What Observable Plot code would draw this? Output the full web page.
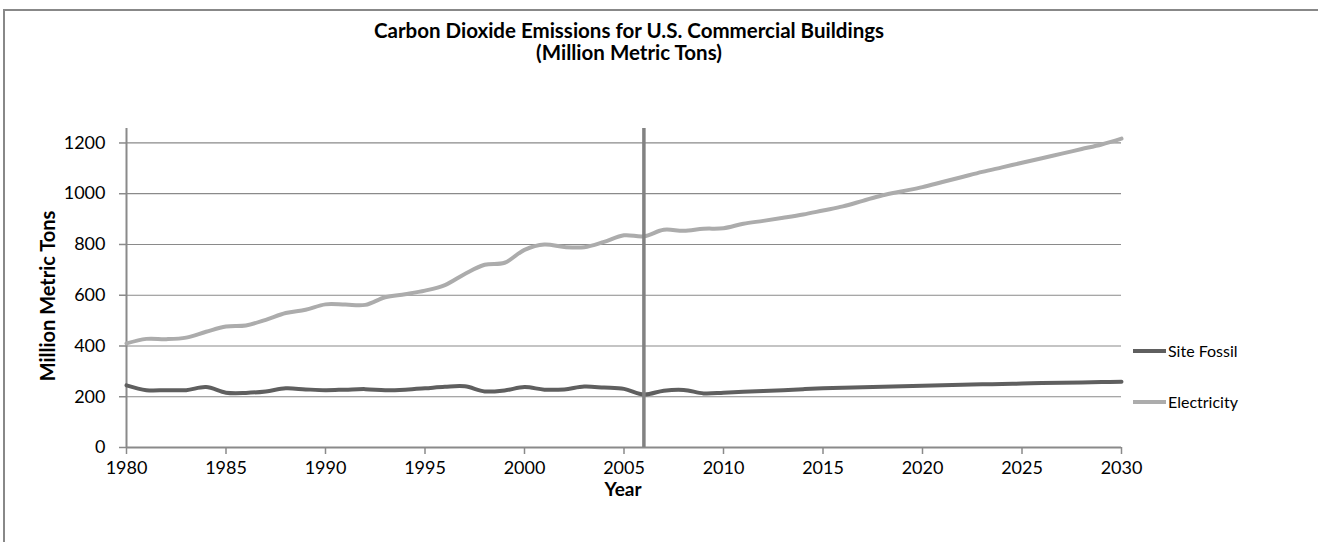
<!DOCTYPE html>
<html>
<head>
<meta charset="utf-8">
<script src="https://cdn.jsdelivr.net/npm/d3@7"></script>
<script src="https://cdn.jsdelivr.net/npm/@observablehq/plot@0.6"></script>
<style>
  html, body { margin: 0; padding: 0; background: #fff; overflow: hidden; }
  #wrap { position: relative; width: 1318px; height: 542px; font-family: Lato, "Open Sans", sans-serif; }
  #frame { position: absolute; left: 3px; top: 9px; width: 1400px; height: 600px; border: 2px solid #888; box-sizing: border-box; }
  .title { position: absolute; left: 0; width: 1258px; text-align: center; font-weight: bold; font-size: 20.5px; line-height: 21px; height: 21px; color: #000; }
  #chart { position: absolute; left: 0; top: 0; }
  .leg { position: absolute; left: 1133px; font-size: 16px; color: #000; display: flex; align-items: center; }
  .leg span.sw { display: inline-block; width: 33px; height: 4px; margin-right: 2px; }
</style>
</head>
<body>
<div id="wrap">
  <div id="frame"></div>
  <div id="chart"></div>
  <div class="title" style="top:20px">Carbon Dioxide Emissions for U.S. Commercial Buildings</div>
  <div class="title" style="top:41.5px">(Million Metric Tons)</div>
</div>
<script>
const years = d3.range(1980, 2031);
const siteFossil = [245,226,226,226,238,216,215,221,233,229,226,228,230,226,228,233,239,241,221,225,238,228,229,240,236,231,209,224,227,213,216,220,223,226,230,233,235,237,239,241,243,245,247,249,250,252,254,255,256,258,259];
const electricity = [410,428,427,433,456,477,481,503,530,543,564,563,562,592,604,618,640,684,720,728,779,800,790,789,810,836,832,858,854,862,864,882,893,905,918,934,950,972,994,1010,1026,1046,1066,1086,1104,1122,1140,1158,1176,1194,1217];
const seriesNames = ["Site Fossil", "Electricity"];
const seriesColors = ["#5f5f5f", "#acacac"];
const yTicks = [0, 200, 400, 600, 800, 1000, 1200];
const xTicks = [1980, 1985, 1990, 1995, 2000, 2005, 2010, 2015, 2020, 2025, 2030];
const dividerYear = [2006];

const rows = [];
years.forEach((yr, i) => {
  rows.push({year: yr, value: siteFossil[i], series: seriesNames[0]});
  rows.push({year: yr, value: electricity[i], series: seriesNames[1]});
});

const chart = Plot.plot({
  width: 1318,
  height: 542,
  marginLeft: 126,
  marginRight: 197,
  marginTop: 128,
  marginBottom: 95,
  style: {fontFamily: "Lato, 'Open Sans', sans-serif", fontSize: "18px", color: "#000", background: "transparent"},
  x: {domain: [1980, 2030]},
  y: {domain: [0, 1257]},
  color: {domain: seriesNames, range: seriesColors},
  marks: [
    Plot.ruleY(yTicks.filter(d => d > 0), {stroke: "#8a8a8a", strokeWidth: 1.2}),
    Plot.axisY({ticks: yTicks, tickSize: 7, tickPadding: 14, tickFormat: d => String(d), stroke: "#8a8a8a", strokeWidth: 1.5, fontSize: 18, label: null}),
    Plot.axisX({ticks: xTicks, tickSize: 7, tickPadding: 7, tickFormat: d => String(d), stroke: "#8a8a8a", strokeWidth: 1.5, fontSize: 18, label: null}),
    Plot.ruleX([1980], {stroke: "#8a8a8a", strokeWidth: 2}),
    Plot.ruleY([0], {stroke: "#8a8a8a", strokeWidth: 2}),
    Plot.line(rows, {x: "year", y: "value", z: "series", stroke: "series", strokeWidth: 4, curve: "catmull-rom"}),
    Plot.ruleX(dividerYear, {stroke: "#828282", strokeWidth: 3.5})
  ]
});
document.getElementById("chart").appendChild(chart);

// axis titles as HTML text
const wrap = document.getElementById("wrap");
const xt = document.createElement("div");
xt.textContent = "Year";
xt.style.cssText = "position:absolute;left:523px;width:200px;top:479px;text-align:center;font-weight:bold;font-size:19px;line-height:20px;";
wrap.appendChild(xt);
const yt = document.createElement("div");
yt.textContent = "Million Metric Tons";
yt.style.cssText = "position:absolute;left:-103px;width:300px;top:285px;text-align:center;font-weight:bold;font-size:20px;line-height:22px;transform:rotate(-90deg);transform-origin:center center;";
wrap.appendChild(yt);

// legend (HTML)
const legTops = [341, 392];
seriesNames.forEach((name, i) => {
  const d = document.createElement("div");
  d.className = "leg";
  d.style.top = legTops[i] + "px";
  d.innerHTML = `<span class="sw" style="background:${seriesColors[i]}"></span>${name}`;
  wrap.appendChild(d);
});
</script>
</body>
</html>
